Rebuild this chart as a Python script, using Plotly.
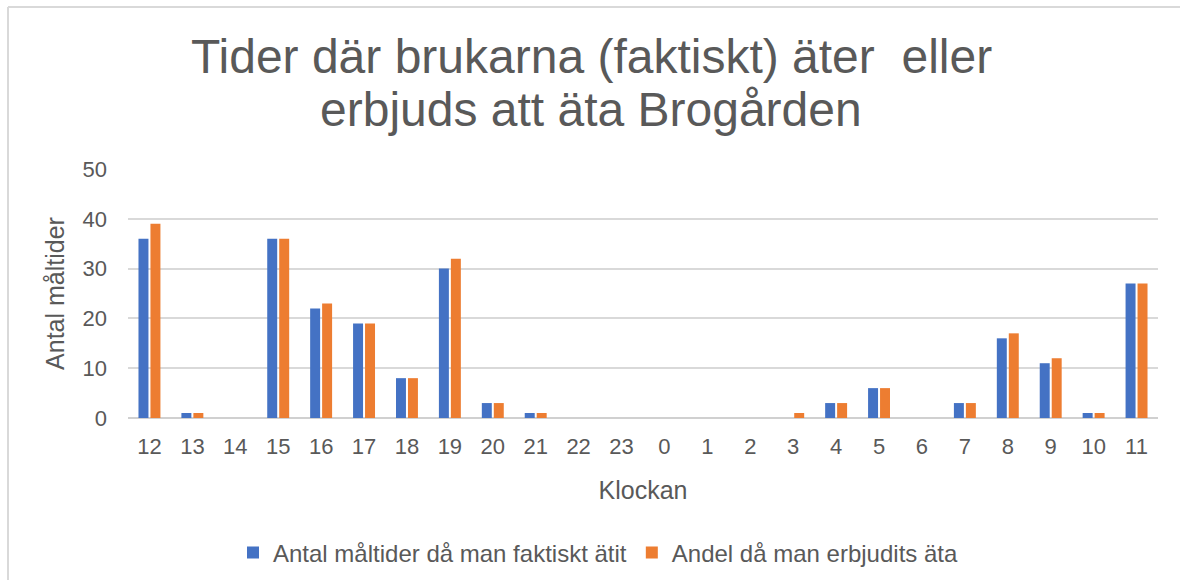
import plotly.graph_objects as go

hours = ["12", "13", "14", "15", "16", "17", "18", "19", "20", "21", "22", "23",
         "0", "1", "2", "3", "4", "5", "6", "7", "8", "9", "10", "11"]
faktiskt = [36, 1, 0, 36, 22, 19, 8, 30, 3, 1, 0, 0, 0, 0, 0, 0, 3, 6, 0, 3, 16, 11, 1, 27]
erbjudits = [39, 1, 0, 36, 23, 19, 8, 32, 3, 1, 0, 0, 0, 0, 0, 1, 3, 6, 0, 3, 17, 12, 1, 27]

title_lines = ["Tider där brukarna (faktiskt) äter&nbsp; eller", "erbjuds att äta Brogården"]

font_family = "Liberation Sans, Arial, sans-serif"
grey = "#595959"

fig = go.Figure()
fig.add_trace(go.Bar(x=hours, y=faktiskt, name="Antal måltider då man faktiskt ätit",
                     marker=dict(color="#4472C4", line=dict(width=0))))
fig.add_trace(go.Bar(x=hours, y=erbjudits, name="Andel då man erbjudits äta",
                     marker=dict(color="#ED7D31", line=dict(width=0))))

L, R, T, B = 128, 22, 169, 162
W, H = 1180, 580
pw = W - L - R
ph = H - T - B

def px_x(px):
    return (px - L) / pw

def px_y(py):
    return (H - B - py) / ph

annotations = []
for line, cy in zip(title_lines, [57, 110]):
    annotations.append(dict(text=line, xref="paper", yref="paper",
                            x=px_x(591), y=px_y(cy), xanchor="center", yanchor="middle",
                            showarrow=False, font=dict(size=48, color=grey, family=font_family)))

frame = dict(color="#d9d9d9", width=2)
fig.update_layout(
    width=W, height=H,
    margin=dict(l=L, r=R, t=T, b=B, autoexpand=False),
    paper_bgcolor="white", plot_bgcolor="white",
    barmode="group", bargap=0.442, bargroupgap=0.167,
    font=dict(family=font_family, color=grey),
    annotations=annotations,
    xaxis=dict(type="category", tickfont=dict(size=22, color=grey), automargin=False,
               title=dict(text="Klockan", font=dict(size=25, color=grey), standoff=23),
               showgrid=False, showline=False, ticks="", zeroline=False,
               ticklabelstandoff=13),
    yaxis=dict(range=[0, 50], dtick=10, tickfont=dict(size=22, color=grey), automargin=False,
               title=dict(text="Antal måltider", font=dict(size=25, color=grey), standoff=10),
               showgrid=True, gridcolor="#d9d9d9", gridwidth=1.5,
               zeroline=True, zerolinecolor="#d0d0d0", zerolinewidth=2,
               ticks="", ticklabelstandoff=20, showline=False),
    legend=dict(orientation="h", x=px_x(598), xanchor="center", y=px_y(553), yanchor="middle",
                font=dict(size=24, color=grey), traceorder="normal"),
    shapes=[
        dict(type="line", xref="paper", yref="paper",
             x0=px_x(8), x1=px_x(8), y0=px_y(582), y1=px_y(7), line=frame, layer="below"),
        dict(type="line", xref="paper", yref="paper",
             x0=px_x(8), x1=px_x(1182), y0=px_y(7), y1=px_y(7), line=frame, layer="below"),
    ],
)

fig.write_html("out.html", config={"displayModeBar": False},
               post_script="document.body.style.margin='0';")
